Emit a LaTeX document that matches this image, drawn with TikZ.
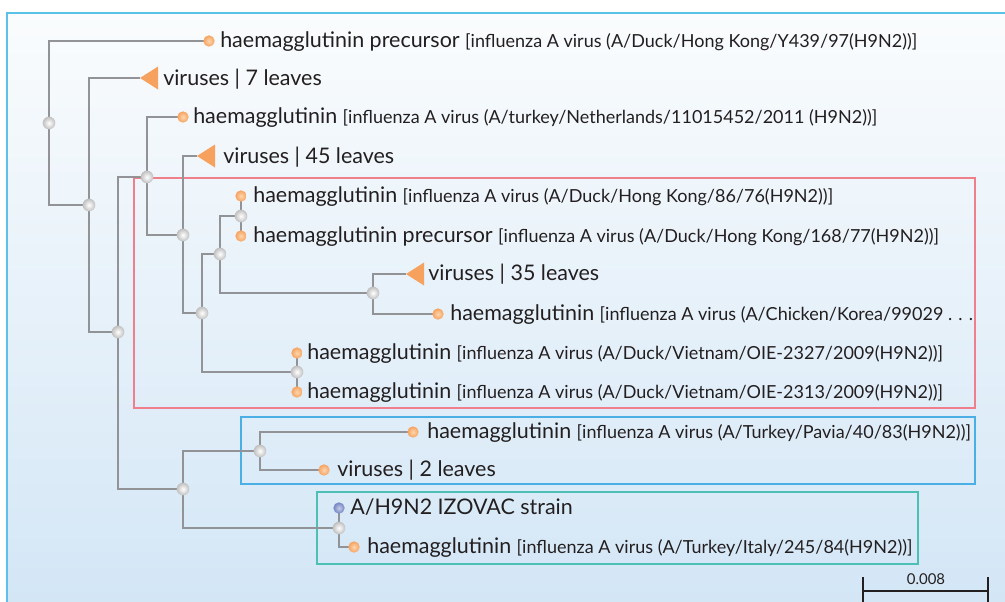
\documentclass[tikz,border=0pt]{standalone}
\usepackage{fontspec}
\setmainfont{Lato}
\usetikzlibrary{backgrounds}
\pgfdeclarelayer{edges}
\pgfsetlayers{background,edges,main}
\definecolor{frameblue}{HTML}{5BC1E9}
\definecolor{bgtop}{HTML}{FAFCFD}
\definecolor{bgbot}{HTML}{D3E6F6}
\definecolor{redbox}{HTML}{EF7F8A}
\definecolor{bluebox}{HTML}{4AAFE5}
\definecolor{tealbox}{HTML}{4CC0B5}
\definecolor{branchc}{HTML}{929396}
\definecolor{txtc}{HTML}{231F20}
\definecolor{orng}{HTML}{F6A25E}
\definecolor{orngl}{HTML}{FDD6AE}
\definecolor{bluel}{HTML}{7283C4}
\newcommand\mtext{\fontsize{16.1}{19}\selectfont}
\newcommand\stext{\fontsize{13.5}{16}\selectfont}
\tikzset{
  branch/.style={draw=branchc, line width=2.2pt},
  inode/.style={circle, inner sep=0pt, minimum size=9.5pt, shading=radial, inner color=white, outer color=gray!50},
  leaf/.style={circle, inner sep=0pt, minimum size=8.5pt, shading=radial, inner color=orngl, outer color=orng},
  bleaf/.style={circle, inner sep=0pt, minimum size=8.5pt, shading=radial, inner color=bluel!40, outer color=bluel},
  tri/.style={fill=orng},
  lab/.style={anchor=base west, inner sep=0pt, text=txtc, font=\mtext},
  box/.style={line width=1.8pt},
}
\begin{document}
\begin{tikzpicture}[x=0.75pt, y=-0.75pt]
\useasboundingbox (0,0) rectangle (1005,601);
\begin{pgfonlayer}{background}
\shade[top color=bgtop, bottom color=bgbot] (7,13) rectangle (1010,606);
\draw[frameblue, line width=1.7pt] (1010,13) -- (7,13) -- (7,606);
\draw[box, redbox] (134,178) rectangle (975,408);
\draw[box, bluebox] (241,417) rectangle (975,484);
\draw[box, tealbox] (317,492) rectangle (918,564);
\end{pgfonlayer}

% internal nodes
\node[inode] (na) at (49,123) {};
\node[inode] (nb) at (89,205) {};
\node[inode] (nc) at (118,332) {};
\node[inode] (nd) at (147,177) {};
\node[inode] (ne) at (183,235) {};
\node[inode] (nf) at (202,313) {};
\node[inode] (ng) at (220,254) {};
\node[inode] (nh) at (241,216) {};
\node[inode] (ni) at (373,293) {};
\node[inode] (nj) at (297,372) {};
\node[inode] (nk) at (183,489) {};
\node[inode] (nl) at (260,451) {};
\node[inode] (nm) at (339,528) {};

% leaves
\node[leaf] (l1) at (209,41) {};
\coordinate (l2) at (140,78);
\fill[tri] (l2) -- ++(18,-11.5) -- ++(0,23) -- cycle;
\node[leaf] (l3) at (183,117) {};
\coordinate (l4) at (197,156);
\fill[tri] (l4) -- ++(18,-11.5) -- ++(0,23) -- cycle;
\node[leaf] (l5) at (241,196) {};
\node[leaf] (l6) at (241,236) {};
\coordinate (l7) at (406,274);
\fill[tri] (l7) -- ++(18,-11.5) -- ++(0,23) -- cycle;
\node[leaf] (l8) at (438,314) {};
\node[leaf] (l9) at (297,353) {};
\node[leaf] (l10) at (297,392) {};
\node[leaf] (l11) at (413,432) {};
\node[leaf] (l12) at (324,470) {};
\node[bleaf] (l13) at (339,508) {};
\node[leaf] (l14) at (354,547) {};

\begin{pgfonlayer}{edges}
\path[branch] (na.center) |- (l1.center) (na.center) |- (nb.center);
\path[branch] (nb.center) |- (l2) (nb.center) |- (nc.center);
\path[branch] (nc.center) |- (nd.center) (nc.center) |- (nk.center);
\path[branch] (nd.center) |- (l3.center) (nd.center) |- (ne.center);
\path[branch] (ne.center) |- (l4) (ne.center) |- (nf.center);
\path[branch] (nf.center) |- (ng.center) (nf.center) |- (nj.center);
\path[branch] (ng.center) |- (nh.center) (ng.center) |- (ni.center);
\path[branch] (nh.center) |- (l5.center) (nh.center) |- (l6.center);
\path[branch] (ni.center) |- (l7) (ni.center) |- (l8.center);
\path[branch] (nj.center) |- (l9.center) (nj.center) |- (l10.center);
\path[branch] (nk.center) |- (nl.center) (nk.center) |- (nm.center);
\path[branch] (nl.center) |- (l11.center) (nl.center) |- (l12.center);
\path[branch] (nm.center) |- (l13.center) (nm.center) |- (l14.center);
\end{pgfonlayer}

% labels
\node[lab] (t1) at (220,47.5) {haemagglutinin precursor {\stext[influenza A virus (A/Duck/Hong Kong/Y439/97(H9N2))]}};
\node[lab] (t2) at (163,85) {viruses | 7 leaves};
\node[lab] (t3) at (193,123.5) {haemagglutinin {\stext[influenza A virus (A/turkey/Netherlands/11015452/2011 (H9N2))]}};
\node[lab] (t4) at (223,163) {viruses | 45 leaves};
\node[lab] (t5) at (253,202.5) {haemagglutinin {\stext[influenza A virus (A/Duck/Hong Kong/86/76(H9N2))]}};
\node[lab] (t6) at (253,242.5) {haemagglutinin precursor {\stext[influenza A virus (A/Duck/Hong Kong/168/77(H9N2))]}};
\node[lab] (t7) at (428,280) {viruses | 35 leaves};
\node[lab] (t8) at (450,320.5) {haemagglutinin {\stext[influenza A virus (A/Chicken/Korea/99029 . . .}};
\node[lab] (t9) at (307,359.5) {haemagglutinin {\stext[influenza A virus (A/Duck/Vietnam/OIE-2327/2009(H9N2))]}};
\node[lab] (t10) at (307,398.5) {haemagglutinin {\stext[influenza A virus (A/Duck/Vietnam/OIE-2313/2009(H9N2))]}};
\node[lab] (t11) at (427,438.5) {haemagglutinin {\stext[influenza A virus (A/Turkey/Pavia/40/83(H9N2))]}};
\node[lab] (t12) at (337,476.5) {viruses | 2 leaves};
\node[lab] (t13) at (350,514.5) {A/H9N2 IZOVAC strain};
\node[lab] (t14) at (367,553.5) {haemagglutinin {\stext[influenza A virus (A/Turkey/Italy/245/84(H9N2))]}};

% scale bar
\coordinate (sa) at (863,591);
\coordinate (sb) at (988,591);
\draw[txtc, line width=1.5pt] (sa) -- (sb);
\draw[txtc, line width=1.5pt] (863,577) -- (863,606) (988,577) -- (988,606);
\node[anchor=base, text=txtc, font=\fontsize{11.2}{13}\selectfont, inner sep=0pt] (sl) at (926,584) {0.008};
\end{tikzpicture}
\end{document}
